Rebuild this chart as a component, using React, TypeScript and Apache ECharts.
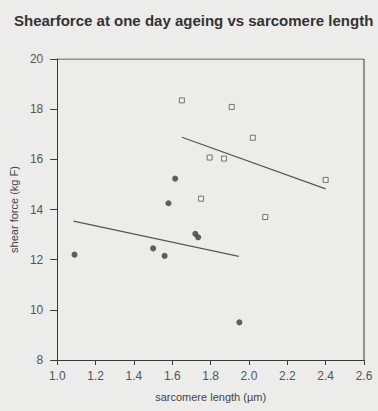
import React, { useEffect, useRef } from "react";
import * as echarts from "echarts";

const titleText = "Shearforce at one day ageing vs sarcomere length";
const xAxisName = "sarcomere length (µm)";
const yAxisName = "shear force (kg F)";

// filled circles: [sarcomere length, shear force]
const dotsX = [1.09, 1.5, 1.56, 1.58, 1.615, 1.72, 1.735, 1.95];
const dotsY = [12.2, 12.45, 12.15, 14.25, 15.23, 13.03, 12.89, 9.5];

// open squares
const squaresX = [1.65, 1.91, 2.02, 1.795, 1.87, 1.75, 2.085, 2.4];
const squaresY = [18.35, 18.09, 16.86, 16.07, 16.03, 14.43, 13.7, 15.18];

// regression lines (end points)
const lineSquaresX = [1.65, 2.4];
const lineSquaresY = [16.88, 14.82];
const lineDotsX = [1.085, 1.947];
const lineDotsY = [13.54, 12.13];

const zip = (xs: number[], ys: number[]) => xs.map((x, i) => [x, ys[i]]);

export default function App() {
  const ref = useRef<HTMLDivElement>(null);
  useEffect(() => {
    if (!ref.current) return;
    const chart = echarts.init(ref.current, undefined, { renderer: "svg" });
    const font = "'Liberation Sans', Arial, sans-serif";
    const axisColor = "#3a3a3a";
    chart.setOption({
      animation: false,
      backgroundColor: "#ececea",
      title: {
        text: titleText,
        left: 9,
        top: 8,
        textStyle: { fontFamily: font, fontSize: 15, fontWeight: "bold", color: "#333" },
      },
      grid: { left: 57, right: 14, top: 59, bottom: 51 },
      xAxis: {
        type: "value",
        min: 1.0,
        max: 2.6,
        interval: 0.2,
        name: xAxisName,
        nameLocation: "middle",
        nameGap: 31,
        nameTextStyle: { fontFamily: font, fontSize: 11, color: "#444" },
        axisLine: { show: true, onZero: false, lineStyle: { color: axisColor, width: 1 } },
        axisTick: { show: true, inside: false, length: 5, lineStyle: { color: axisColor } },
        axisLabel: {
          fontFamily: font,
          fontSize: 12,
          color: "#555",
          margin: 10,
          formatter: (v: number) => v.toFixed(1),
        },
        splitLine: { show: false },
      },
      yAxis: {
        type: "value",
        min: 8,
        max: 20,
        interval: 2,
        name: yAxisName,
        nameLocation: "middle",
        nameGap: 35,
        nameTextStyle: { fontFamily: font, fontSize: 11, color: "#444" },
        axisLine: { show: true, onZero: false, lineStyle: { color: axisColor, width: 1 } },
        axisTick: { show: true, inside: false, length: 7, lineStyle: { color: axisColor } },
        axisLabel: { fontFamily: font, fontSize: 12, color: "#555", margin: 14 },
        splitLine: { show: false },
      },
      series: [
        {
          type: "scatter",
          data: zip(dotsX, dotsY),
          symbol: "circle",
          symbolSize: 6,
          itemStyle: { color: "#3a3a3a" },
          z: 3,
        },
        {
          type: "scatter",
          data: zip(squaresX, squaresY),
          symbol: "rect",
          symbolSize: 5,
          itemStyle: { color: "#f2f2f0", borderColor: "#555", borderWidth: 1 },
          z: 3,
        },
        {
          type: "line",
          data: zip(lineSquaresX, lineSquaresY),
          symbol: "none",
          lineStyle: { color: "#555", width: 1.2 },
          z: 2,
        },
        {
          type: "line",
          data: zip(lineDotsX, lineDotsY),
          symbol: "none",
          lineStyle: { color: "#555", width: 1.2 },
          z: 2,
        },
        {
          // frame: top and right border lines
          type: "line",
          data: [
            [1.0, 20],
            [2.6, 20],
            [2.6, 8],
          ],
          symbol: "none",
          silent: true,
          lineStyle: { color: axisColor, width: 1 },
          z: 1,
        },
      ],
    });
    return () => chart.dispose();
  }, []);
  return <div ref={ref} style={{ width: 378, height: 411, position: "absolute", left: 0, top: 0 }} />;
}
